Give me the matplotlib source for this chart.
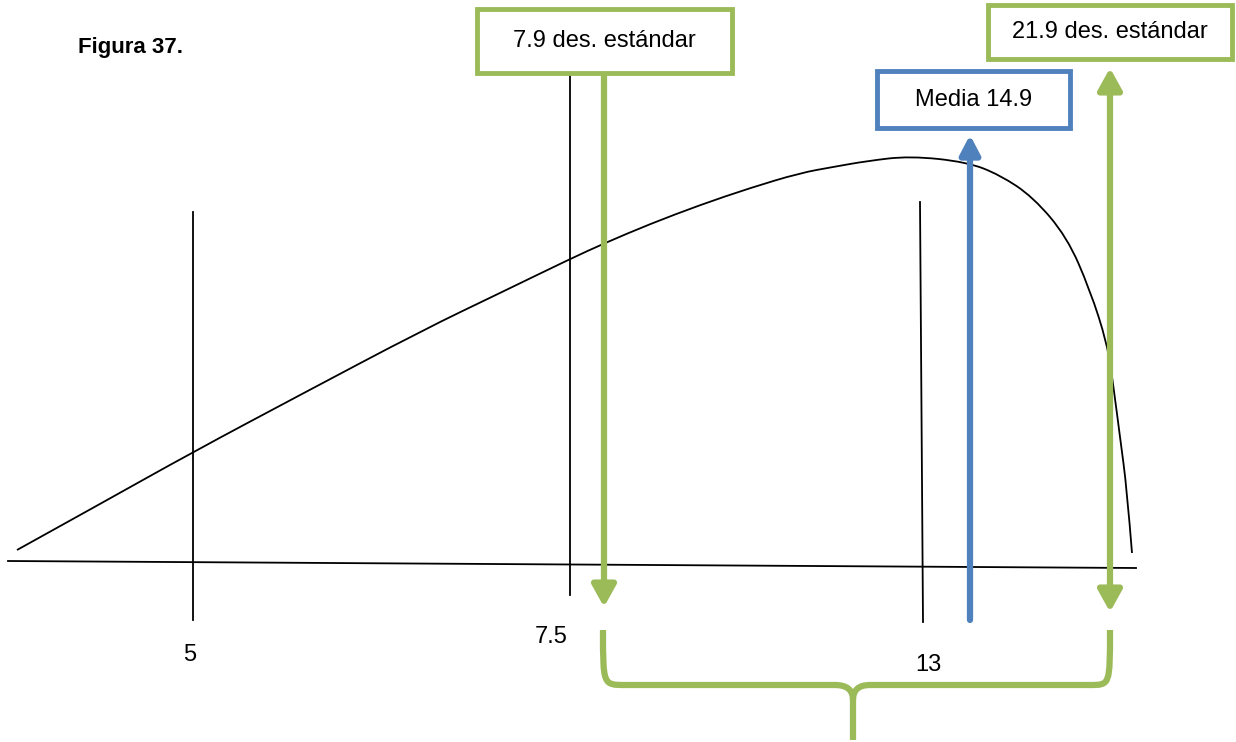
import numpy as np
import matplotlib.pyplot as plt
from matplotlib.patches import FancyArrowPatch, Rectangle, PathPatch
from matplotlib.path import Path

# --- datos (coordenadas en pixeles) ---
curve_x = [17, 100, 193, 300, 423, 500, 570, 605, 650, 700, 750, 800, 833, 867,
           910, 967, 1000, 1033, 1067, 1090, 1107, 1113, 1120, 1127, 1132]
curve_y = [550, 504, 452, 395, 330, 293, 259, 243, 224, 205, 188, 173, 167, 161,
           156, 162, 175, 197, 237, 290, 343, 383, 437, 490, 553]

tick_x = [193, 570, 920]
tick_top = [212, 75, 202]
tick_bottom = [620, 595, 622]
tick_labels = ["5", "7.5", "13"]
label_pos = [(190, 655), (551, 637), (928, 665)]

boxes = ["7.9 des. estándar", "Media 14.9", "21.9 des. estándar"]
box_rect = [(477, 9, 255, 64), (877, 71, 193, 57), (988, 5, 244, 54)]

GREEN = "#9BBB59"
BLUE = "#4F81BD"

fig = plt.figure(figsize=(12.36, 7.42), dpi=100)
ax = fig.add_axes([0, 0, 1, 1])
ax.set_xlim(0, 1236)
ax.set_ylim(742, 0)
ax.axis("off")

# eje horizontal
ax.plot([8, 1136], [561, 568], color="black", lw=1.3)

# curva suave: los puntos leidos son puntos de control de una bezier cuadratica
pts = list(zip(curve_x, curve_y))
verts = [pts[0]]
codes = [Path.MOVETO]
for i in range(1, len(pts) - 1):
    mid = ((pts[i][0] + pts[i + 1][0]) / 2, (pts[i][1] + pts[i + 1][1]) / 2)
    if i == len(pts) - 2:
        mid = pts[-1]
    verts += [pts[i], mid]
    codes += [Path.CURVE3, Path.CURVE3]
ax.add_patch(PathPatch(Path(verts, codes), fill=False, edgecolor="black", lw=1.3))

# lineas verticales y etiquetas
for x, t, b in zip(tick_x, tick_top, tick_bottom):
    ax.plot([x, x + (3 if x == 920 else 0)], [t, b], color="black", lw=1.3)
for lab, (lx, ly) in zip(tick_labels, label_pos):
    ax.text(lx, ly, lab, fontsize=17, ha="center", va="center", family="Liberation Sans")

# cajas
box_colors = [GREEN, BLUE, GREEN]
for txt, (bx, by, bw, bh), c in zip(boxes, box_rect, box_colors):
    ax.add_patch(Rectangle((bx, by), bw, bh, fill=True, facecolor="white",
                           edgecolor=c, lw=3.5, zorder=3))
    ax.text(bx + bw / 2, by + bh / 2, txt, fontsize=17, ha="center", va="center",
            family="Liberation Sans", zorder=4)

# flechas
def arrow(x0, y0, x1, y1, color, style, ms):
    ax.add_patch(FancyArrowPatch((x0, y0), (x1, y1), arrowstyle=style,
                                 mutation_scale=ms, color=color, lw=4.5,
                                 shrinkA=0, shrinkB=0, zorder=2))

arrow(604, 76, 604, 607, GREEN, "-|>,head_length=0.36,head_width=0.2", 36)
arrow(1110, 68, 1110, 612, GREEN, "<|-|>,head_length=0.36,head_width=0.2", 36)
arrow(970, 620, 970, 135, BLUE, "-|>,head_length=0.38,head_width=0.2", 30)

# llave
verts = [(603, 630), (603, 685), (603, 685), (625, 685),
         (835, 685), (853, 685), (853, 700), (853, 740),
         (853, 700), (853, 685), (870, 685),
         (1090, 685), (1110, 685), (1110, 685), (1110, 630)]
codes = [Path.MOVETO, Path.CURVE4, Path.CURVE4, Path.CURVE4,
         Path.LINETO, Path.CURVE3, Path.CURVE3, Path.LINETO,
         Path.MOVETO, Path.CURVE3, Path.CURVE3,
         Path.LINETO, Path.CURVE4, Path.CURVE4, Path.CURVE4]
ax.add_patch(PathPatch(Path(verts, codes), fill=False, edgecolor=GREEN, lw=4.5,
                       capstyle="butt"))

ax.text(78, 48, "Figura 37.", fontsize=16, fontweight="bold", ha="left", va="center",
        family="Liberation Sans")

fig.savefig("out.png", dpi=100)
